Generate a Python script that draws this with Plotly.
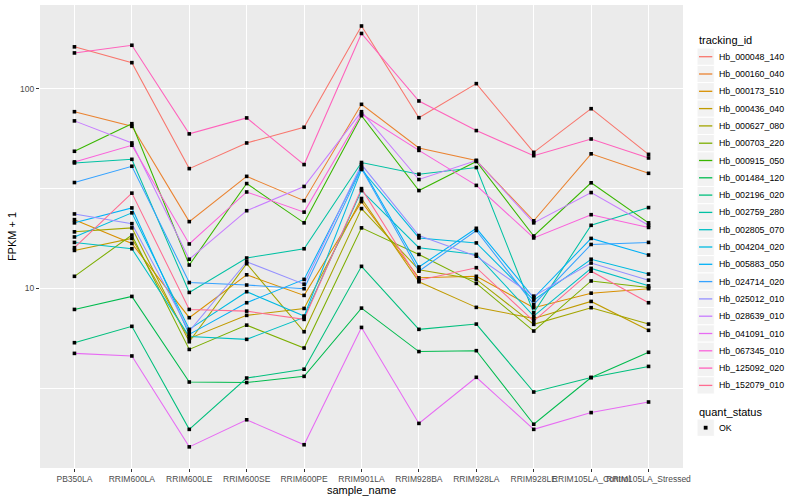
import plotly.graph_objects as go

samples = ["PB350LA", "RRIM600LA", "RRIM600LE", "RRIM600SE", "RRIM600PE", "RRIM901LA",
           "RRIM928BA", "RRIM928LA", "RRIM928LE", "RRIM105LA_Control", "RRIM105LA_Stressed"]

tracking_ids = ["Hb_000048_140", "Hb_000160_040", "Hb_000173_510", "Hb_000436_040", "Hb_000627_080",
                "Hb_000703_220", "Hb_000915_050", "Hb_001484_120", "Hb_002196_020", "Hb_002759_280",
                "Hb_002805_070", "Hb_004204_020", "Hb_005883_050", "Hb_024714_020", "Hb_025012_010",
                "Hb_028639_010", "Hb_041091_010", "Hb_067345_010", "Hb_125092_020", "Hb_152079_010"]

colors = ["#F8766D", "#EA8331", "#D89000", "#C09B00", "#A3A500", "#7CAE00", "#39B600", "#00BB4E",
          "#00BF7D", "#00C1A3", "#00BFC4", "#00BAE0", "#00B0F6", "#35A2FF", "#9590FF", "#C77CFF",
          "#E76BF3", "#FA62DB", "#FF62BC", "#FF6C91"]

# FPKM + 1 values, one list per tracking_id, in sample order
hb_000048_140 = [162, 135, 39.8, 53.5, 64.1, 206, 71.6, 106, 48.0, 79.4, 46.9]
hb_000160_040 = [76.7, 64.8, 21.6, 36.4, 27.5, 83.5, 50.5, 43.7, 21.8, 47.2, 37.7]
hb_000173_510 = [22.1, 16.8, 7.14, 11.7, 9.23, 27.2, 11.3, 11.5, 8.01, 9.47, 9.97]
hb_000436_040 = [15.5, 17.8, 5.62, 7.33, 7.94, 28.2, 10.8, 8.04, 7.08, 8.61, 6.17]
hb_000627_080 = [19.2, 20.1, 5.41, 13.3, 6.07, 25.1, 12.4, 11.1, 6.61, 8.01, 6.63]
hb_000703_220 = [11.5, 18.5, 4.95, 6.55, 5.03, 20.1, 14.8, 10.6, 6.12, 10.9, 10.1]
hb_000915_050 = [48.6, 66.8, 13.1, 33.5, 21.3, 73.3, 30.9, 43.2, 18.3, 33.8, 21.3]
hb_001484_120 = [7.85, 9.12, 3.40, 3.38, 3.63, 7.97, 4.83, 4.88, 2.09, 3.58, 4.79]
hb_002196_020 = [5.35, 6.46, 1.97, 3.56, 3.94, 12.9, 6.24, 6.63, 3.03, 3.58, 4.07]
hb_002759_280 = [42.5, 44.3, 9.55, 14.2, 15.8, 42.7, 37.3, 40.3, 7.56, 20.7, 25.4]
hb_002805_070 = [17.0, 15.8, 5.75, 5.56, 7.16, 30.9, 16.0, 14.8, 7.27, 12.6, 10.3]
hb_004204_020 = [18.1, 23.9, 6.24, 9.63, 7.27, 39.4, 17.9, 16.9, 8.74, 14.0, 11.8]
hb_005883_050 = [21.3, 25.3, 5.89, 8.48, 11.1, 40.4, 12.8, 20.0, 8.98, 17.8, 14.7]
hb_024714_020 = [33.9, 40.9, 10.7, 10.4, 9.97, 39.8, 12.2, 19.5, 8.32, 16.6, 17.0]
hb_025012_010 = [23.6, 21.1, 6.10, 13.6, 10.5, 41.7, 18.4, 14.5, 9.15, 13.4, 11.0]
hb_028639_010 = [69.0, 53.5, 14.0, 24.5, 32.4, 76.7, 35.1, 43.7, 21.3, 30.2, 20.7]
hb_041091_010 = [4.73, 4.59, 1.61, 2.20, 1.65, 6.38, 2.11, 3.59, 1.97, 2.39, 2.70]
hb_067345_010 = [43.0, 52.1, 16.7, 30.4, 24.1, 74.7, 49.1, 32.8, 17.9, 23.4, 20.2]
hb_125092_020 = [151, 165, 59.4, 71.4, 41.7, 189, 86.8, 61.7, 46.2, 56.0, 45.0]
hb_152079_010 = [16.0, 30.0, 7.85, 7.70, 7.00, 31.6, 11.0, 12.7, 6.86, 12.2, 8.48]

series = [hb_000048_140, hb_000160_040, hb_000173_510, hb_000436_040, hb_000627_080,
          hb_000703_220, hb_000915_050, hb_001484_120, hb_002196_020, hb_002759_280,
          hb_002805_070, hb_004204_020, hb_005883_050, hb_024714_020, hb_025012_010,
          hb_028639_010, hb_041091_010, hb_067345_010, hb_125092_020, hb_152079_010]

quant_status = "OK"

FONT = "Liberation Sans, Arial, Helvetica, sans-serif"
W, H = 800, 500
ML, MR, MT, MB = 40, 117, 5, 32
PW, PH = W - ML - MR, H - MT - MB


def px_x(px):
    return (px - ML) / PW


def px_y(py):
    return (H - MB - py) / PH


fig = go.Figure()

for name, col, vals in zip(tracking_ids, colors, series):
    fig.add_trace(go.Scatter(x=samples, y=vals, mode="lines", name=name,
                             line=dict(color=col, width=1.05), showlegend=False,
                             hoverinfo="skip"))

all_x, all_y = [], []
for vals in series:
    all_x.extend(samples)
    all_y.extend(vals)
fig.add_trace(go.Scatter(x=all_x, y=all_y, mode="markers", name=quant_status,
                         marker=dict(color="black", symbol="square", size=3.6),
                         showlegend=False))

shapes = []
annotations = []

# legend: tracking_id
leg_x0 = 697
key_w = 17.3
first_y = 56.7
step = 17.3
annotations.append(dict(xref="paper", yref="paper", x=px_x(leg_x0), y=px_y(40.5),
                        text="tracking_id", showarrow=False, xanchor="left", yanchor="middle",
                        font=dict(family=FONT, size=11, color="black")))
for i, (name, col) in enumerate(zip(tracking_ids, colors)):
    yc = first_y + step * i
    shapes.append(dict(type="rect", xref="paper", yref="paper",
                       x0=px_x(leg_x0), x1=px_x(leg_x0 + key_w),
                       y0=px_y(yc - step / 2), y1=px_y(yc + step / 2),
                       fillcolor="#F2F2F2", line=dict(color="white", width=1), layer="above"))
    shapes.append(dict(type="line", xref="paper", yref="paper",
                       x0=px_x(leg_x0 + 2), x1=px_x(leg_x0 + key_w - 2),
                       y0=px_y(yc), y1=px_y(yc),
                       line=dict(color=col, width=1.3), layer="above"))
    annotations.append(dict(xref="paper", yref="paper", x=px_x(leg_x0 + key_w + 2.5), y=px_y(yc),
                            text=name, showarrow=False, xanchor="left", yanchor="middle",
                            font=dict(family=FONT, size=8.8, color="black")))

# legend: quant_status
annotations.append(dict(xref="paper", yref="paper", x=px_x(leg_x0), y=px_y(411.5),
                        text="quant_status", showarrow=False, xanchor="left", yanchor="middle",
                        font=dict(family=FONT, size=11, color="black")))
qy = 427.7
shapes.append(dict(type="rect", xref="paper", yref="paper",
                   x0=px_x(leg_x0), x1=px_x(leg_x0 + key_w),
                   y0=px_y(qy - step / 2), y1=px_y(qy + step / 2),
                   fillcolor="#F2F2F2", line=dict(color="white", width=1), layer="above"))
cx = leg_x0 + key_w / 2
shapes.append(dict(type="rect", xref="paper", yref="paper",
                   x0=px_x(cx - 1.9), x1=px_x(cx + 1.9),
                   y0=px_y(qy - 1.9), y1=px_y(qy + 1.9),
                   fillcolor="black", line=dict(width=0), layer="above"))
annotations.append(dict(xref="paper", yref="paper", x=px_x(leg_x0 + key_w + 2.5), y=px_y(qy),
                        text=quant_status, showarrow=False, xanchor="left", yanchor="middle",
                        font=dict(family=FONT, size=8.8, color="black")))

fig.update_layout(
    width=W, height=H,
    margin=dict(l=ML, r=MR, t=MT, b=MB, pad=0),
    paper_bgcolor="white", plot_bgcolor="#EBEBEB",
    showlegend=False,
    font=dict(family=FONT, size=9, color="#4D4D4D"),
    shapes=shapes, annotations=annotations,
)

fig.update_xaxes(
    type="category", categoryorder="array", categoryarray=samples,
    range=[-0.6, len(samples) - 0.4],
    showgrid=True, gridcolor="white", gridwidth=1.07,
    zeroline=False, showline=False,
    ticks="outside", ticklen=3, tickwidth=1, tickcolor="#333333",
    tickangle=0, tickfont=dict(family=FONT, size=8.5, color="#4D4D4D"),
    title=dict(text="sample_name", font=dict(family=FONT, size=11, color="black"), standoff=0),
    automargin=False,
)

fig.update_yaxes(
    type="log", range=[0.101, 2.419],
    tickmode="array", tickvals=[10, 100], ticktext=["10", "100"],
    showgrid=True, gridcolor="white", gridwidth=1.07,
    minor=dict(tickmode="array", tickvals=[3.1623, 31.623], showgrid=True,
               gridcolor="white", gridwidth=0.53, ticks=""),
    zeroline=False, showline=False,
    ticks="outside", ticklen=3, tickwidth=1, tickcolor="#333333",
    tickfont=dict(family=FONT, size=8.5, color="#4D4D4D"),
    title=dict(text="FPKM + 1", font=dict(family=FONT, size=11, color="black"), standoff=1),
    automargin=False,
)

fig.write_html("out.html", config={"displayModeBar": False},
               post_script="document.body.style.margin='0';document.body.style.padding='0';")
